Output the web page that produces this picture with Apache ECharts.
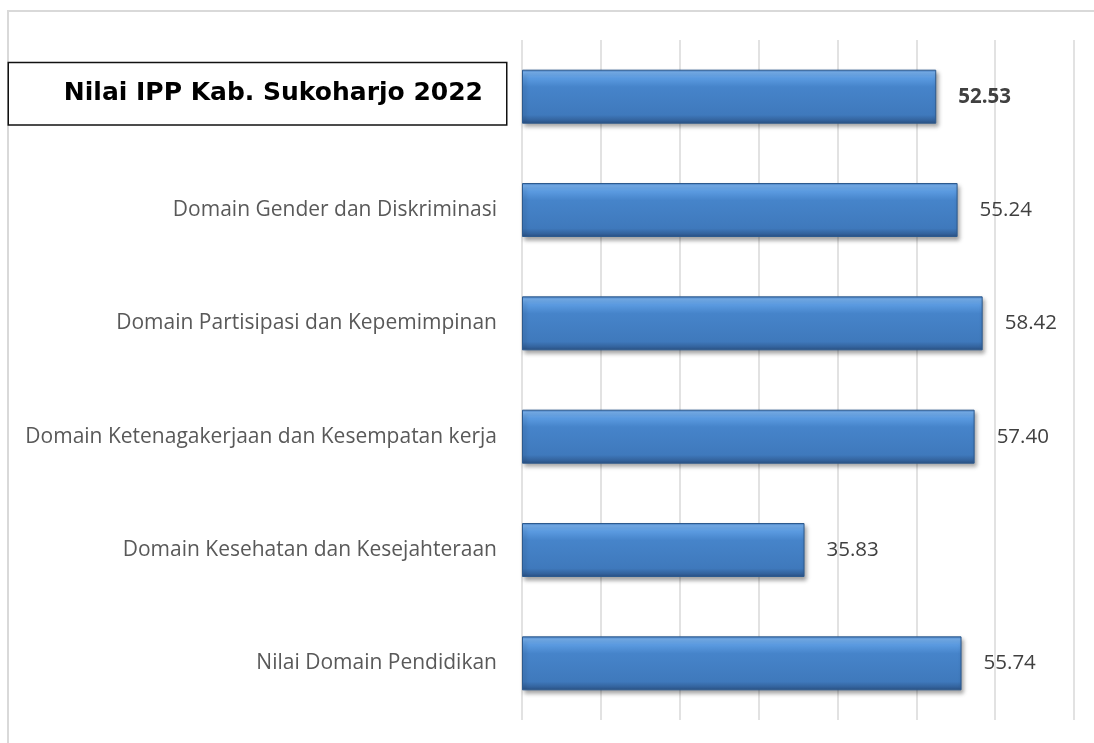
<!DOCTYPE html>
<html>
<head>
<meta charset="utf-8">
<title>Nilai IPP Kab. Sukoharjo 2022</title>
<script src="https://cdn.jsdelivr.net/npm/echarts@6/dist/echarts.min.js"></script>
<style>
    html, body { margin: 0; padding: 0; background: #fff; }
    #chart { width: 1094px; height: 743px; }
</style>
</head>
<body>
<div id="chart"></div>
<script>
'use strict';

// data, top to bottom
var categories = [
    'Nilai IPP Kab. Sukoharjo 2022',
    'Domain Gender dan Diskriminasi',
    'Domain Partisipasi dan Kepemimpinan',
    'Domain Ketenagakerjaan dan Kesempatan kerja',
    'Domain Kesehatan dan Kesejahteraan',
    'Nilai Domain Pendidikan'
];
var values = [52.53, 55.24, 58.42, 57.40, 35.83, 55.74];
var axisMin = 0,
    axisMax = 70,
    axisStep = 10;

var chart = echarts.init(document.getElementById('chart'));

// bar fill: bevel-ish vertical gradient
var barFill = new echarts.graphic.LinearGradient(0, 0, 0, 1, [
    { offset: 0, color: '#3f77bd' },
    { offset: 0.05, color: '#78b2f0' },
    { offset: 0.16, color: '#5a9ae0' },
    { offset: 0.32, color: '#4684ca' },
    { offset: 0.84, color: '#3f79bc' },
    { offset: 0.94, color: '#33629c' },
    { offset: 1, color: '#2a5082' }
]);

var barData = values.map(function(v, i) {
    var item = { value: v };
    if (i === 0) {
        item.label = { fontWeight: 'bold' };
    }
    return item;
});

var option = {
    animation: false,
    backgroundColor: '#fff',
    grid: { left: 522, right: 20, top: 40, bottom: 23 },
    xAxis: {
        type: 'value',
        min: axisMin,
        max: axisMax,
        interval: axisStep,
        axisLabel: { show: false },
        axisLine: { show: false },
        axisTick: { show: false },
        splitLine: { lineStyle: { color: '#d9d9d9', width: 1.5 } }
    },
    yAxis: {
        type: 'category',
        inverse: true,
        data: categories,
        axisLine: { show: false },
        axisTick: { show: false },
        axisLabel: {
            margin: 16,
            formatter: function(v, i) {
                // first label sits in a framed box, nudged up a little
                return i === 0 ? '{box|' + v + '}\n{gap| }' : '{n|' + v + '}';
            },
            rich: {
                box: {
                    fontFamily: 'DejaVu Sans',
                    fontWeight: 'bold',
                    fontSize: 25,
                    lineHeight: 29,
                    color: '#000',
                    width: 474,
                    align: 'right',
                    padding: [18, 23, 18, 0],
                    borderColor: '#111',
                    borderWidth: 1.5,
                    backgroundColor: '#fff'
                },
                gap: {
                    fontSize: 1,
                    lineHeight: 6,
                    height: 6
                },
                n: {
                    fontFamily: 'Open Sans',
                    fontSize: 21,
                    color: '#595959',
                    padding: [0, 9, 0, 0]
                }
            }
        }
    },
    series: [{
        type: 'bar',
        data: barData,
        barWidth: 54,
        itemStyle: {
            color: barFill,
            borderColor: '#2d5a8e',
            borderWidth: 1,
            shadowColor: 'rgba(0, 0, 0, 0.35)',
            shadowBlur: 4,
            shadowOffsetX: 2,
            shadowOffsetY: 3
        },
        label: {
            show: true,
            position: 'right',
            distance: 22,
            fontFamily: 'Open Sans',
            fontSize: 20.5,
            color: '#404040',
            formatter: function(p) {
                return values[p.dataIndex].toFixed(2);
            }
        }
    }],
    graphic: [{
        // outer chart border
        type: 'rect',
        silent: true,
        shape: { x: 8, y: 11, width: 1100, height: 800 },
        style: { fill: 'none', stroke: '#d9d9d9', lineWidth: 2 }
    }]
};

chart.setOption(option);
</script>
</body>
</html>
